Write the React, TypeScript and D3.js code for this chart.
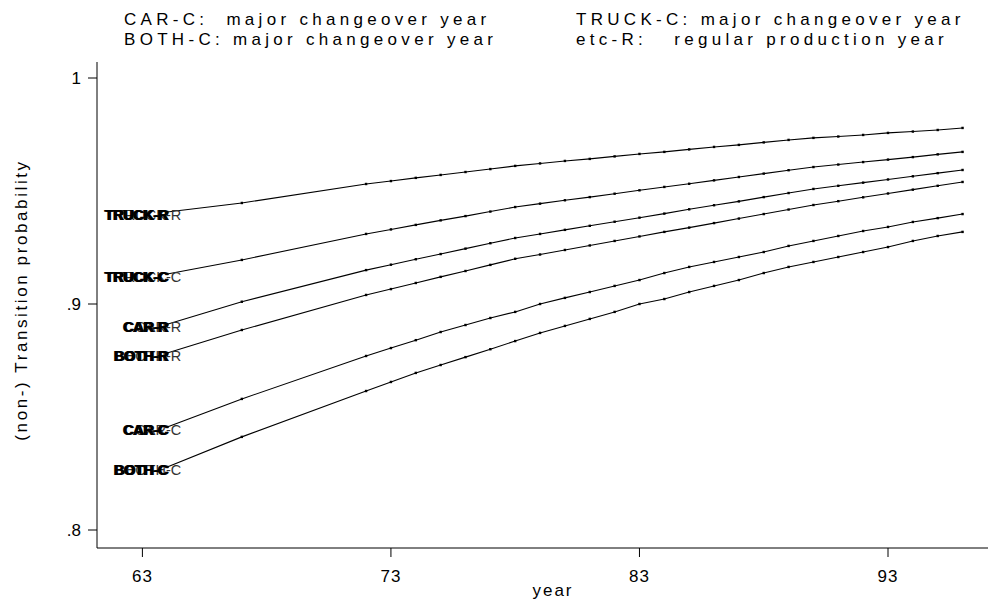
import React from "react";
import * as d3 from "d3";

// years on the x axis (first point hidden under the labels)
const years = [64, 67, 72, 73, 74, 75, 76, 77, 78, 79, 80, 81, 82, 83, 84, 85, 86, 87, 88, 89, 90, 91, 92, 93, 94, 95, 96];

const truckR = [0.9407, 0.9447, 0.9531, 0.9544, 0.9558, 0.9571, 0.9584, 0.9597, 0.9611, 0.9622, 0.9633, 0.9642, 0.9653, 0.9664, 0.9673, 0.9684, 0.9695, 0.9704, 0.9715, 0.9726, 0.9735, 0.9741, 0.9748, 0.9757, 0.9763, 0.977, 0.9779];
const truckC = [0.9133, 0.9195, 0.931, 0.933, 0.935, 0.937, 0.9389, 0.9409, 0.9429, 0.9444, 0.9459, 0.9473, 0.9488, 0.9503, 0.9518, 0.9532, 0.9547, 0.9562, 0.9577, 0.9592, 0.9606, 0.9617, 0.9628, 0.9639, 0.965, 0.9662, 0.9673];
const carR = [0.891, 0.901, 0.915, 0.9174, 0.9198, 0.9221, 0.9245, 0.9269, 0.9292, 0.931, 0.9328, 0.9346, 0.9364, 0.9382, 0.94, 0.9419, 0.9437, 0.9454, 0.9473, 0.9491, 0.9509, 0.9523, 0.9537, 0.9551, 0.9565, 0.9579, 0.9593];
const bothR = [0.8783, 0.8885, 0.904, 0.9066, 0.9093, 0.912, 0.9146, 0.9173, 0.92, 0.9219, 0.9239, 0.9259, 0.9279, 0.9299, 0.9319, 0.9338, 0.9358, 0.9378, 0.9398, 0.9418, 0.9438, 0.9455, 0.9472, 0.9489, 0.9506, 0.9523, 0.954];
const carC = [0.8456, 0.858, 0.877, 0.8805, 0.884, 0.8876, 0.8907, 0.8938, 0.8965, 0.9, 0.9027, 0.9053, 0.908, 0.9106, 0.9137, 0.9164, 0.9186, 0.9208, 0.923, 0.9257, 0.9279, 0.9301, 0.9323, 0.9341, 0.9363, 0.938, 0.9398];
const bothC = [0.8279, 0.8412, 0.8615, 0.8655, 0.8695, 0.873, 0.8765, 0.88, 0.8836, 0.8872, 0.8903, 0.8934, 0.8965, 0.9, 0.9022, 0.9053, 0.908, 0.9106, 0.9137, 0.9164, 0.9186, 0.9208, 0.923, 0.9252, 0.9279, 0.9301, 0.9319];

const seriesNames = ["TRUCK-R", "TRUCK-C", "CAR-R", "BOTH-R", "CAR-C", "BOTH-C"];
const seriesValues = [truckR, truckC, carR, bothR, carC, bothC];

const xTicks = [63, 73, 83, 93];
const yTicks = [0.8, 0.9, 1];
const yTickLabels = [".8", ".9", "1"];

const legendLines = [
  ["CAR-C:  major changeover year", "TRUCK-C: major changeover year"],
  ["BOTH-C: major changeover year", "etc-R:   regular production year"],
];

const width = 1001;
const height = 601;
const font = "'Liberation Sans', Arial, Helvetica, sans-serif";

export default function App() {
  const x = d3.scaleLinear().domain([63, 93]).range([142.4, 888]);
  const y = d3.scaleLinear().domain([0.8, 1]).range([530, 78]);

  const axisLeft = 97;
  const axisBottom = 548;

  const line = d3
    .line<number>()
    .x((d, i) => x(years[i]))
    .y((d) => y(d));

  return (
    <svg
      width={width}
      height={height}
      style={{ position: "absolute", left: 0, top: 0, background: "#fff" }}
      fontFamily={font}
    >
      <rect width={width} height={height} fill="#fff" />

      {/* legend text */}
      {legendLines.map((row, r) =>
        row.map((t, c) => (
          <text
            key={r + "-" + c}
            x={c === 0 ? 124 : 576}
            y={25 + r * 20}
            fontSize={17}
            letterSpacing={4.3}
            fill="#000"
            style={{ whiteSpace: "pre" }}
          >
            {t}
          </text>
        ))
      )}

      {/* axes */}
      <line x1={axisLeft} x2={axisLeft} y1={62} y2={axisBottom} stroke="#000" strokeWidth={1} />
      <line x1={axisLeft} x2={988} y1={axisBottom} y2={axisBottom} stroke="#000" strokeWidth={1} />

      {yTicks.map((t, i) => (
        <g key={"yt" + t}>
          <line x1={axisLeft - 9} x2={axisLeft} y1={y(t)} y2={y(t)} stroke="#000" />
          <text x={81} y={y(t) + 6} fontSize={17} textAnchor="end" fill="#000">
            {yTickLabels[i]}
          </text>
        </g>
      ))}

      {xTicks.map((t) => (
        <g key={"xt" + t}>
          <line x1={x(t)} x2={x(t)} y1={axisBottom} y2={axisBottom + 9} stroke="#000" />
          <text x={x(t)} y={582} fontSize={17} textAnchor="middle" letterSpacing={1} fill="#000">
            {t}
          </text>
        </g>
      ))}

      <text x={553} y={596} fontSize={17} textAnchor="middle" letterSpacing={2}>
        year
      </text>
      <text
        transform={`translate(27,300) rotate(-90)`}
        fontSize={17}
        textAnchor="middle"
        letterSpacing={2.6}
      >
        (non-) Transition probability
      </text>

      {/* lines and points */}
      {seriesValues.map((vals, s) => (
        <g key={seriesNames[s]}>
          <path d={line(vals) || ""} fill="none" stroke="#000" strokeWidth={1.1} />
          {vals.map((v, i) => (
            <rect
              key={i}
              x={x(years[i]) - 1.2}
              y={y(v) - 1.2}
              width={2.4}
              height={2.4}
              fill="#000"
            />
          ))}
        </g>
      ))}

      {/* doubled labels at the start of each line */}
      {seriesValues.map((vals, s) => {
        const px = x(years[0]);
        const py = y(vals[0]) + 8;
        return (
          <g key={"lab" + s} fontSize={14.5} fill="#000">
            <text x={px + 14} y={py} textAnchor="end" fill="#333">
              {seriesNames[s]}
            </text>
            <text x={px} y={py} textAnchor="end" fontWeight="bold" letterSpacing={-0.4}>
              {seriesNames[s]}
            </text>
            <text x={px + 1.5} y={py} textAnchor="end" fontWeight="bold" letterSpacing={-0.4}>
              {seriesNames[s]}
            </text>
          </g>
        );
      })}
    </svg>
  );
}
